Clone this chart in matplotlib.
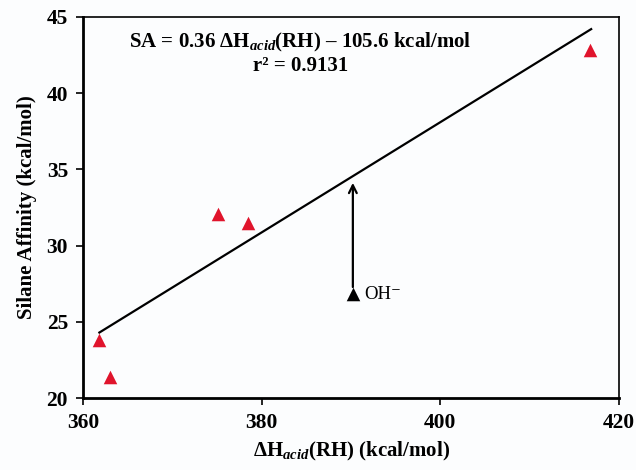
import numpy as np
import matplotlib
matplotlib.use('Agg')
import matplotlib.pyplot as plt

plt.rcParams['font.family'] = ['Liberation Serif', 'DejaVu Serif']
plt.rcParams['mathtext.fontset'] = 'custom'
plt.rcParams['mathtext.rm'] = 'Liberation Serif:bold'
plt.rcParams['mathtext.it'] = 'Liberation Serif:bold:italic'

# data
dh_acid = [361.8, 363.0, 375.1, 378.4, 416.8]
silane_aff = [23.8, 21.4, 32.1, 31.5, 42.8]

# OH- point and its arrow up to the fit line
oh_x = 390.2
oh_y = 26.8
oh_arrow_top = 34.3

# regression line ends
fit_x = [361.8, 416.9]
fit_y = [24.3, 44.2]

xticks = [360, 380, 400, 420]
yticks = [20, 25, 30, 35, 40, 45]

fig = plt.figure(figsize=(6.36, 4.70), dpi=100)
fig.patch.set_facecolor('#fcfdfe')
ax = fig.add_axes([0.131, 0.153, 0.842, 0.811])
ax.set_facecolor('#fcfdfe')

ax.plot(fit_x, fit_y, color='black', lw=1.6, zorder=2)
ax.scatter(dh_acid, silane_aff, marker='^', s=95, color='#e0142c', zorder=3, linewidths=0)
ax.scatter([oh_x], [oh_y], marker='^', s=95, color='black', zorder=3, linewidths=0)
ax.annotate('', xy=(oh_x, oh_arrow_top), xytext=(oh_x, oh_y + 0.3),
            arrowprops=dict(arrowstyle='->', color='black', lw=1.6, mutation_scale=14))
ax.text(oh_x + 1.3, oh_y, 'OH⁻', fontsize=13.5, va='center', ha='left')

# fit equation
ax.text(0.405, 0.934, 'SA = 0.36 ΔH$_{acid}$(RH) – 105.6 kcal/mol', transform=ax.transAxes,
        fontsize=15, fontweight='bold', ha='center', va='center')
ax.text(0.405, 0.872, 'r² = 0.9131', transform=ax.transAxes,
        fontsize=15, fontweight='bold', ha='center', va='center')

ax.set_xlim(360, 420)
ax.set_ylim(20, 45)
ax.set_xticks(xticks)
ax.set_yticks(yticks)
ax.tick_params(direction='out', length=5, width=1.2, labelsize=15.5, pad=6)
for lbl in ax.get_xticklabels() + ax.get_yticklabels():
    lbl.set_fontweight('bold')

for side in ['left', 'bottom']:
    ax.spines[side].set_linewidth(2.0)
for side in ['top', 'right']:
    ax.spines[side].set_linewidth(1.2)

ax.set_xlabel('ΔH$_{acid}$(RH) (kcal/mol)', fontsize=15, fontweight='bold', labelpad=5)
ax.set_ylabel('Silane Affinity (kcal/mol)', fontsize=15, fontweight='bold', labelpad=7)

fig.savefig('out.png', dpi=100, facecolor=fig.get_facecolor())
